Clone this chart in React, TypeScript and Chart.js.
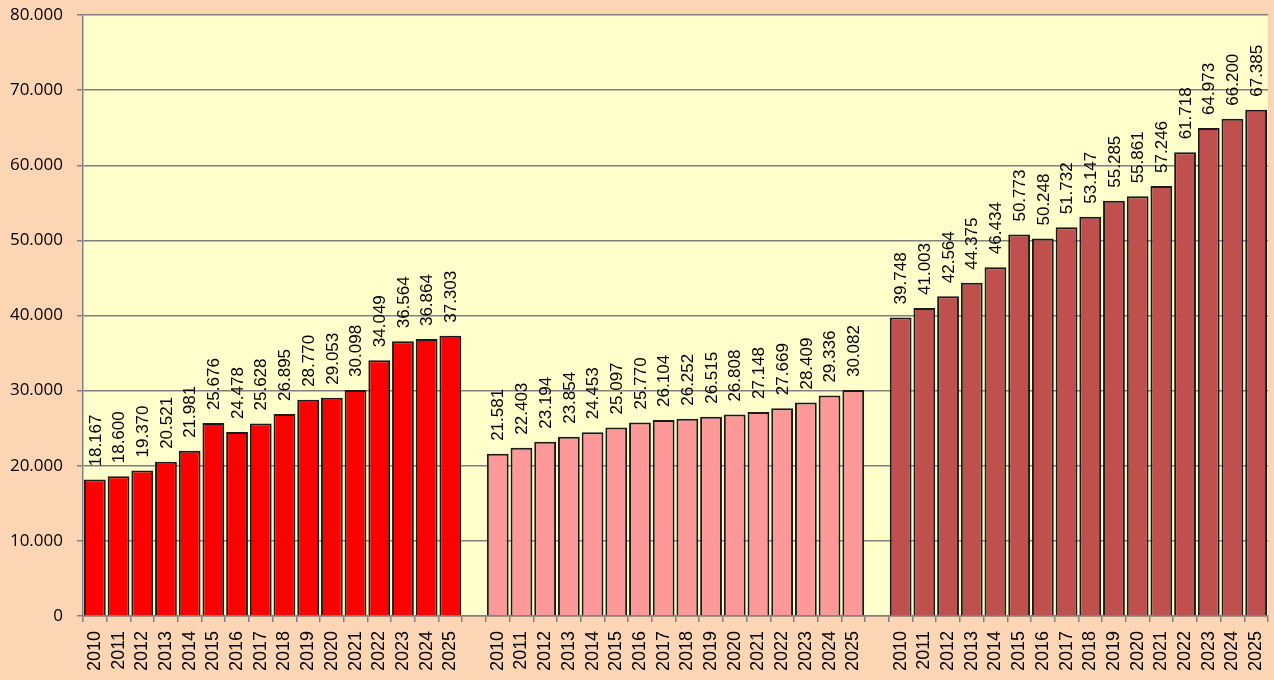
import React, { useEffect, useRef } from 'react';
import { Chart, registerables } from 'chart.js';

Chart.register(...registerables);

const years = ['2010', '2011', '2012', '2013', '2014', '2015', '2016', '2017', '2018', '2019', '2020', '2021', '2022', '2023', '2024', '2025'];
const seriesA = [18167, 18600, 19370, 20521, 21981, 25676, 24478, 25628, 26895, 28770, 29053, 30098, 34049, 36564, 36864, 37303];
const seriesB = [21581, 22403, 23194, 23854, 24453, 25097, 25770, 26104, 26252, 26515, 26808, 27148, 27669, 28409, 29336, 30082];
const seriesC = [39748, 41003, 42564, 44375, 46434, 50773, 50248, 51732, 53147, 55285, 55861, 57246, 61718, 64973, 66200, 67385];
const yMin = 0;
const yMax = 80000;
const yStep = 10000;

const colorA = '#FF0000';
const colorB = '#FF9999';
const colorC = '#C0504D';

const fmt = (n: number) => (n === 0 ? '0' : String(Math.round(n)).replace(/\B(?=(\d{3})+(?!\d))/g, '.'));

const labels = [...years, '', ...years, '', ...years];
const values: (number | null)[] = [...seriesA, null, ...seriesB, null, ...seriesC];
const colors = [
  ...seriesA.map(() => colorA), 'transparent',
  ...seriesB.map(() => colorB), 'transparent',
  ...seriesC.map(() => colorC),
];

const plotBg = {
  id: 'plotBg',
  beforeDraw(chart: any) {
    const { ctx, chartArea } = chart;
    ctx.save();
    ctx.fillStyle = '#FCD5B4';
    ctx.fillRect(0, 0, chart.width, chart.height);
    ctx.fillStyle = '#FFFFCC';
    ctx.fillRect(chartArea.left, chartArea.top, chartArea.right - chartArea.left, chartArea.bottom - chartArea.top);
    ctx.restore();
  },
};

const yLabels = {
  id: 'yLabels',
  afterDraw(chart: any) {
    const { ctx } = chart;
    const scale = chart.scales.y;
    ctx.save();
    ctx.font = '17px "Open Sans"';
    ctx.fillStyle = '#000';
    ctx.textAlign = 'right';
    ctx.textBaseline = 'middle';
    scale.ticks.forEach((t: any, i: number) => {
      const y = scale.getPixelForTick(i);
      ctx.fillText(fmt(t.value), scale.right - 20, y);
    });
    ctx.restore();
  },
};

const barLabels = {
  id: 'barLabels',
  afterDatasetsDraw(chart: any) {
    const { ctx } = chart;
    const meta = chart.getDatasetMeta(0);
    const data = chart.data.datasets[0].data;
    ctx.save();
    ctx.font = '17px "Liberation Sans"';
    ctx.fillStyle = '#000';
    ctx.textAlign = 'left';
    ctx.textBaseline = 'middle';
    meta.data.forEach((el: any, i: number) => {
      const v = data[i];
      if (v === null || v === undefined) return;
      ctx.save();
      ctx.translate(el.x + 1, el.y - 13);
      ctx.rotate(-Math.PI / 2);
      ctx.fillText(fmt(v), 0, 0);
      ctx.restore();
    });
    ctx.restore();
  },
};

export default function App() {
  const ref = useRef<HTMLCanvasElement>(null);
  useEffect(() => {
    document.body.style.margin = '0';
    const chart = new Chart(ref.current!, {
      type: 'bar',
      data: {
        labels,
        datasets: [
          {
            data: values,
            backgroundColor: colors,
            borderColor: '#1a1a1a',
            borderWidth: 2,
            barPercentage: 0.92,
            categoryPercentage: 1,
          },
        ],
      },
      options: {
        animation: false,
        responsive: true,
        maintainAspectRatio: false,
        layout: { padding: { top: 15, right: 6, left: 0, bottom: 0 } },
        plugins: { legend: { display: false }, tooltip: { enabled: false } },
        scales: {
          x: {
            offset: true,
            grid: { offset: true, drawOnChartArea: false, drawTicks: true, tickLength: 6, color: '#808080', lineWidth: 1.5 },
            border: { color: '#808080', width: 1.5 },
            ticks: {
              autoSkip: false,
              maxRotation: 90,
              minRotation: 90,
              padding: 9,
              color: '#000',
              font: { family: 'Liberation Sans', size: 18 },
            },
            afterFit: (s: any) => {
              s.height = 64;
              s.paddingLeft = 0;
              s.paddingRight = 0;
            },
          },
          y: {
            min: yMin,
            max: yMax,
            grid: { color: '#808080', lineWidth: 1.5, tickLength: 6 },
            border: { color: '#808080', width: 1.5 },
            ticks: {
              stepSize: yStep,
              color: 'rgba(0,0,0,0)',
              callback: (v: any) => fmt(Number(v)),
            },
            afterFit: (s: any) => {
              s.width = 83;
              s.paddingTop = 0;
              s.paddingBottom = 0;
            },
          },
        },
      },
      plugins: [plotBg, yLabels, barLabels],
    });
    return () => chart.destroy();
  }, []);
  return (
    <div style={{ position: 'relative', width: 1274, height: 680, background: '#FCD5B4' }}>
      <canvas ref={ref} />
    </div>
  );
}
